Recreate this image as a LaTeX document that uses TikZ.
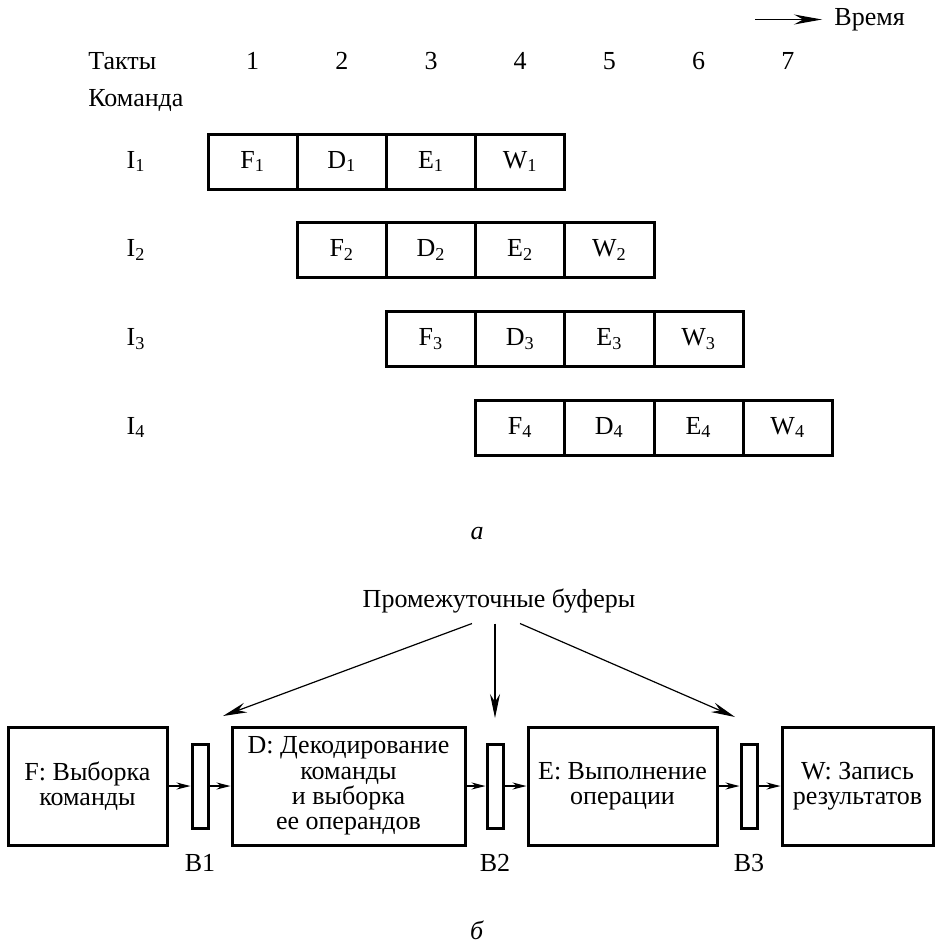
\documentclass[tikz,border=0pt]{standalone}
\usepackage{fontspec}
\setmainfont{Liberation Serif}
\usepackage{tikz}
\usetikzlibrary{positioning,arrows.meta,calc}

\begin{document}
\begin{tikzpicture}[x={(0.5pt,0pt)},y={(0pt,-0.5pt)},
every node/.style={font=\fontsize{13}{12.6}\selectfont, inner sep=2pt},
cell/.style={draw, line width=1.5pt, minimum width=44.6pt, minimum height=27.5pt, outer sep=0pt},
stage/.style={draw, line width=1.5pt, align=center, minimum height=59pt},
buffer/.style={draw, line width=1.5pt, minimum width=8pt, minimum height=42pt, inner sep=0pt},
link/.style={line width=0.6pt, -{Stealth[length=7pt,width=3.5pt]}},
pointer/.style={line width=0.6pt, -{Stealth[length=12pt,width=5pt]}}]
\useasboundingbox (0,0) rectangle (940,942);

% time axis and clock numbers
\coordinate (t0) at (755,19.5);
\node[anchor=west] (time) at (830,19.5) {Время};
\draw[line width=0.6pt, shorten >=4pt, -{Stealth[length=14pt,width=5pt]}] (t0) -- (time.west);
\node[anchor=west] (takty) at (84,61) {Такты};
\foreach \k in {1,...,7} {
\node (n\k) at ({252.6+89.2*(\k-1)},61) {\k};
}
\node[anchor=west] (cmd) at (84,101) {Команда};

% one row of stages per instruction
\foreach \r in {1,...,4} {
\node (i\r) at (136,{161.5+88.7*(\r-1)}) {I\textsubscript{\r}};
\foreach \s [count=\k] in {F,D,E,W} {
\node[cell] (c\r\k) at ({252.6+89.2*(\r+\k-2)},{161.5+88.7*(\r-1)}) {\s\textsubscript{\r}};
}}
\node (pa) at (477,534) {\textit{а}};

% pipeline with buffers
\node (buf) at (499,601) {Промежуточные буферы};
\node[stage, minimum width=79.5pt] (f) at (87.5,786) {F: Выборка\\команды};
\node[buffer] (b1) at (200,786) {};
\node[stage, minimum width=116.5pt] (d) at (348.5,786) {D: Декодирование\\команды\\и выборка\\ее операндов};
\node[buffer] (b2) at (495,786) {};
\node[stage, minimum width=94.5pt] (e) at (622.5,786) {E: Выполнение\\операции};
\node[buffer] (b3) at (749,786) {};
\node[stage, minimum width=75.5pt] (w) at (857.5,786) {W: Запись\\результатов};
\foreach \a/\b in {f/b1,b1/d,d/b2,b2/e,e/b3,b3/w} {
\draw[link] (\a) -- (\b);
}
\foreach \i in {1,2,3} {
\node[below=10pt of b\i] (lb\i) {B\i};
}
\coordinate (p1) at (223,716);
\coordinate (p2) at (495,718);
\coordinate (p3) at (735,717);
\draw[pointer] ($(buf.south)+(-27,6)$) -- (p1);
\draw[pointer] ($(buf.south -| b2)+(0,6)$) -- (p2);
\draw[pointer] ($(buf.south)+(21,6)$) -- (p3);
\node (pb) at (477,930) {\textit{б}};
\end{tikzpicture}
\end{document}
